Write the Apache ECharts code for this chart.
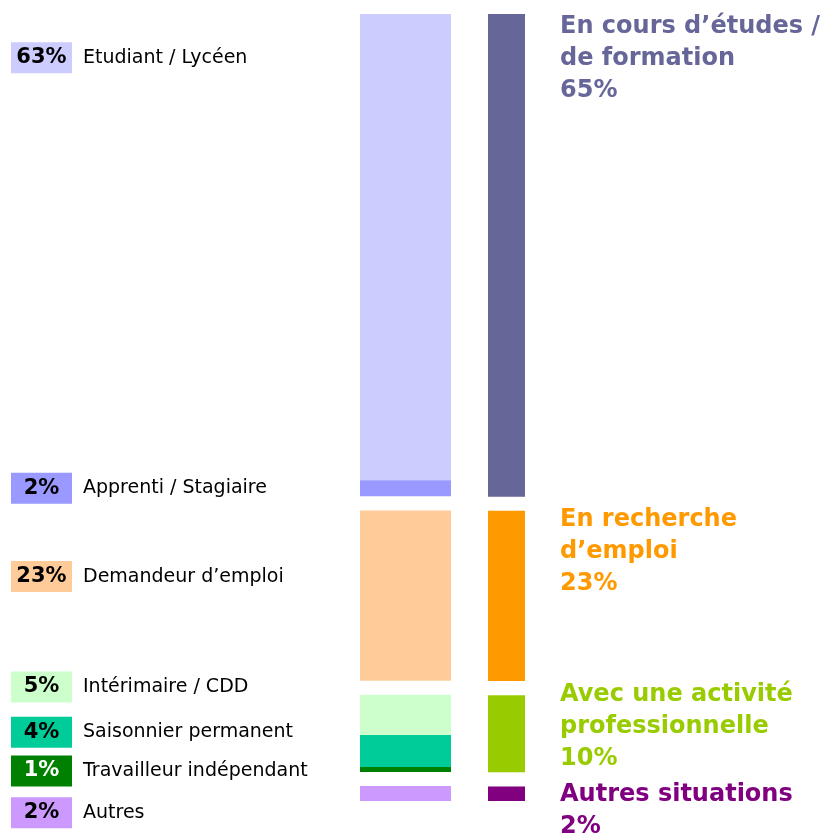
<!DOCTYPE html>
<html>
<head>
<meta charset="utf-8">
<script src="https://cdn.jsdelivr.net/npm/echarts@6/dist/echarts.min.js"></script>
<style>
  html, body { margin: 0; padding: 0; background: #fff; }
  #chart { width: 820px; height: 833px; }
</style>
</head>
<body>
<div id="chart"></div>
<script>
// situation détaillée (colonne de gauche)
const leftNames = ['Etudiant / Lycéen', 'Apprenti / Stagiaire', 'Demandeur d’emploi', 'Intérimaire / CDD',
  'Saisonnier permanent', 'Travailleur indépendant', 'Autres'];
const leftValues = [62.6, 2.15, 22.85, 5.38, 4.3, 0.67, 2.0];
const leftColors = ['#ccccff', '#9999ff', '#ffcc99', '#ccffcc', '#00cc99', '#008000', '#cc99ff'];
const leftGroup = [0, 0, 1, 2, 2, 2, 3];

// regroupement (colonne de droite)
const rightNames = ['En cours d’études /\nde formation', 'En recherche\nd’emploi',
  'Avec une activité\nprofessionnelle', 'Autres situations'];
const rightValues = [64.8, 22.85, 10.35, 2.0];
const rightColors = ['#666699', '#ff9900', '#99cc00', '#800080'];

const GAP = 1.9;
const FONT = '"DejaVu Sans", Verdana, sans-serif';

// décalage vertical des étiquettes de gauche / droite
const leftLabelDy = [-189.5, 0, -19, -28, -18.6, 1.5, 19.3];
const rightLabelDy = [-3, -7, -16, -8];

const series = [];
let prevGroup = 0;
leftNames.forEach(function (name, i) {
  if (leftGroup[i] !== prevGroup) {
    series.push({ type: 'bar', stack: 'L', xAxisIndex: 0, yAxisIndex: 0, silent: true,
      barWidth: '100%', data: [GAP], itemStyle: { color: 'transparent' } });
    prevGroup = leftGroup[i];
  }
  series.push({
    type: 'bar', name: name, stack: 'L', xAxisIndex: 0, yAxisIndex: 0,
    barWidth: '100%',
    data: [leftValues[i]],
    itemStyle: { color: leftColors[i] },
    label: {
      show: true,
      position: [-349, '50%'],
      offset: [0, leftLabelDy[i]],
      align: 'left',
      verticalAlign: 'middle',
      formatter: '{b|' + Math.round(leftValues[i]) + '%}{n|' + name + '}',
      rich: {
        b: { backgroundColor: leftColors[i], width: 61, height: 31, lineHeight: 31, align: 'center',
          fontFamily: FONT, fontWeight: 'bold', fontSize: 21, color: i === 5 ? '#fff' : '#000' },
        n: { padding: [0, 0, 0, 11], fontFamily: FONT, fontSize: 19, color: '#000' }
      }
    }
  });
});

rightNames.forEach(function (name, i) {
  if (i > 0) {
    series.push({ type: 'bar', stack: 'R', xAxisIndex: 1, yAxisIndex: 1, silent: true,
      barWidth: '100%', data: [GAP], itemStyle: { color: 'transparent' } });
  }
  series.push({
    type: 'bar', name: name, stack: 'R', xAxisIndex: 1, yAxisIndex: 1,
    barWidth: '100%',
    data: [rightValues[i]],
    itemStyle: { color: rightColors[i] },
    label: {
      show: true,
      position: [72, rightLabelDy[i]],
      align: 'left',
      verticalAlign: 'top',
      formatter: name + '\n' + Math.round(rightValues[i]) + '%',
      fontFamily: FONT, fontWeight: 'bold', fontSize: 24, lineHeight: 32,
      color: rightColors[i]
    }
  });
});

const total = leftValues.reduce(function (a, b) { return a + b; }, 0) + 3 * GAP;

const chart = echarts.init(document.getElementById('chart'));
chart.setOption({
  animation: false,
  grid: [
    { left: 360, width: 91, top: 14, bottom: 32 },
    { left: 488, width: 37, top: 14, bottom: 32 }
  ],
  xAxis: [
    { type: 'category', gridIndex: 0, data: [''], show: false },
    { type: 'category', gridIndex: 1, data: [''], show: false }
  ],
  yAxis: [
    { type: 'value', gridIndex: 0, inverse: true, min: 0, max: total, show: false },
    { type: 'value', gridIndex: 1, inverse: true, min: 0, max: total, show: false }
  ],
  series: series
});
</script>
</body>
</html>
